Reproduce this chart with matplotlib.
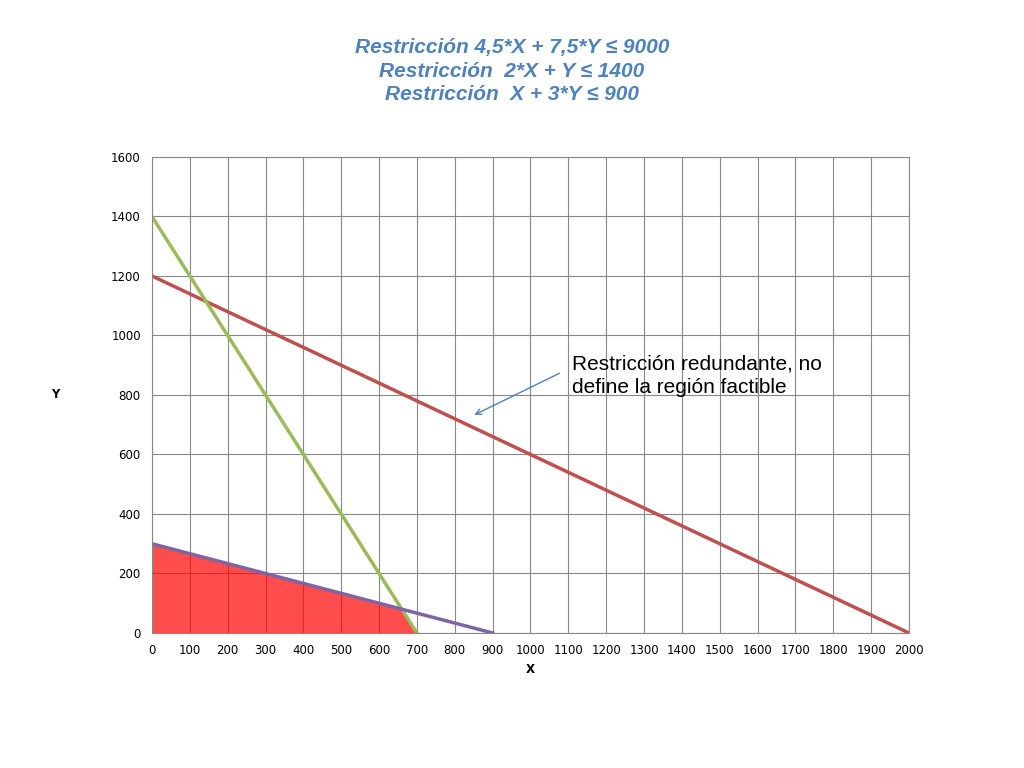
import matplotlib
matplotlib.use("Agg")
import matplotlib.pyplot as plt

x_red = [0, 2000]; y_red = [1200, 0]
x_green = [0, 700]; y_green = [1400, 0]
x_purple = [0, 900]; y_purple = [300, 0]
region_x = [0, 0, 660, 700]
region_y = [0, 300, 80, 0]
xticks = list(range(0, 2001, 100))
yticks = list(range(0, 1601, 200))

fig = plt.figure(figsize=(10.24, 7.68), dpi=100)
ax = fig.add_axes([0.1484, 0.1758, 0.7393, 0.6198])
ax.fill(region_x, region_y, color="#FF0000", alpha=0.7, lw=0)
ax.plot(x_red, y_red, color="#C0504D", lw=2.5)
ax.plot(x_green, y_green, color="#9BBB59", lw=2.5)
ax.plot(x_purple, y_purple, color="#8064A2", lw=2.5)
ax.set_xlim(0, 2000); ax.set_ylim(0, 1600)
ax.set_xticks(xticks); ax.set_yticks(yticks)
ax.grid(True, color="#888888", lw=0.8)
ax.set_axisbelow(True)
for s in ax.spines.values():
    s.set_color("#888888")
ax.tick_params(length=0, labelsize=8.5, pad=8)
ax.set_xlabel("X", fontsize=8.5, fontweight="bold")
ax.set_ylabel("Y", fontsize=8.5, fontweight="bold", rotation=0, labelpad=40, va="center")
fig.suptitle("Restricción 4,5*X + 7,5*Y ≤ 9000\nRestricción  2*X + Y ≤ 1400\nRestricción  X + 3*Y ≤ 900",
             y=0.95, fontsize=15, fontweight="bold", style="italic", color="#4F81BD",
             family="Liberation Sans", linespacing=1.3)
ax.text(1110, 935, "Restricción redundante, no\ndefine la región factible", fontsize=15,
        va="top", ha="left", family="Liberation Sans", linespacing=1.3)
ax.annotate("", xy=(845, 729), xytext=(1083, 877),
            arrowprops=dict(arrowstyle="->", color="#4F81BD", lw=1))
fig.savefig("out.png", dpi=100)
